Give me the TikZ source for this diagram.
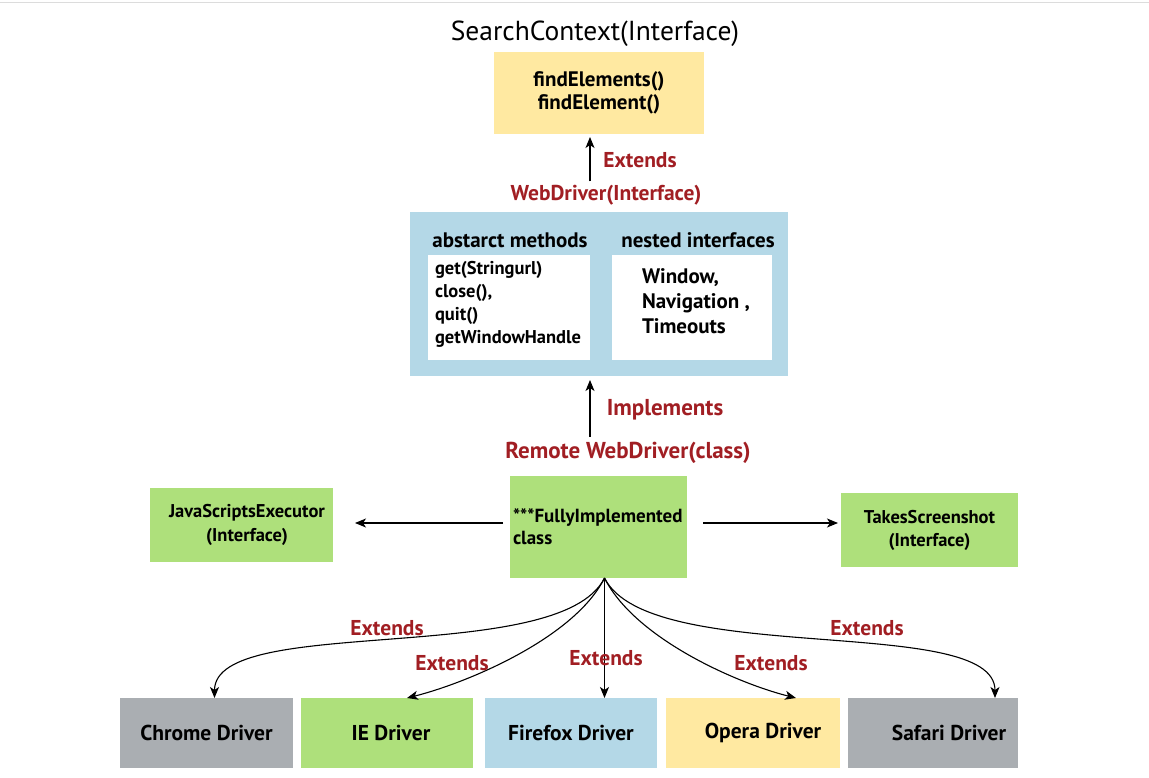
\documentclass[tikz,border=0pt]{standalone}
\usepackage{fontspec}
\setmainfont{PT Sans}
\usetikzlibrary{arrows.meta}
\definecolor{boxyellow}{HTML}{FFE9A1}
\definecolor{boxblue}{HTML}{B4D8E7}
\definecolor{boxgreen}{HTML}{AEE07B}
\definecolor{boxgray}{HTML}{AAAEB2}
\definecolor{labelred}{HTML}{A11E23}
\definecolor{rulegray}{HTML}{DCDCDC}
\begin{document}
\begin{tikzpicture}[x=1pt,y=-1pt,
    box/.style={inner sep=0pt,outer sep=0pt,align=center},
    redlabel/.style={text=labelred,font=\bfseries\fontsize{21.5}{23}\selectfont},
    drvbox/.style={box,minimum height=70pt,font=\bfseries\fontsize{21.5}{23}\selectfont},
    arrow/.style={-{Stealth[length=11pt,width=9pt,inset=3pt]},line width=1.1pt}]
        \useasboundingbox (0,0) rectangle (1149,778);
        \draw[rulegray,line width=1pt] (0,3) -- (1149,3);

        % SearchContext on top
        \node (title) at (595,34) {\fontsize{27.5}{29}\selectfont SearchContext(Interface)};
        \node[box,fill=boxyellow,minimum width=210pt,minimum height=82pt,
              font=\bfseries\fontsize{21}{23}\selectfont] (search) at (599,93)
              {findElements()\\findElement()};

        % WebDriver interface
        \node[redlabel] (webdriver) at (606,195) {WebDriver(Interface)};
        \node[redlabel] (ext1) at (640,160) {Extends};
        \node[box,fill=boxblue,minimum width=378pt,minimum height=164pt] (wdbox) at (599,294) {};
        \node[box,fill=white,minimum width=162pt,minimum height=105pt] (absbox) at (509,307.5) {};
        \node[box,fill=white,minimum width=160pt,minimum height=105pt] (nestbox) at (692,307.5) {};
        \node[font=\bfseries\fontsize{21}{23}\selectfont] (abshead) at (510,240) {abstarct methods};
        \node[font=\bfseries\fontsize{21}{23}\selectfont] (nesthead) at (698,240) {nested interfaces};
        \node[box,anchor=north west,align=left,font=\fontsize{18.5}{23}\selectfont\bfseries] (abslist) at (435,261)
              {get(Stringurl)\\close(),\\quit()\\getWindowHandle};
        \node[box,anchor=north west,align=left,font=\fontsize{21}{25}\selectfont\bfseries] (nestlist) at (642,269)
              {Window,\\Navigation ,\\Timeouts};

        % RemoteWebDriver class
        \node[redlabel,font=\bfseries\fontsize{23}{25}\selectfont] (remote) at (628,453) {Remote WebDriver(class)};
        \node[redlabel,font=\bfseries\fontsize{23}{25}\selectfont] (impl) at (665,410) {Implements};
        \node[box,fill=boxgreen,minimum width=177pt,minimum height=102pt,align=left,
              text width=171pt,font=\bfseries\fontsize{19}{22}\selectfont] (fully) at (598.5,527)
              {***FullyImplemented\\class};
        \node[box,fill=boxgreen,minimum width=183pt,minimum height=74pt,
              font=\bfseries\fontsize{18.5}{24}\selectfont] (jsexec) at (241.5,525)
              {\hspace*{11pt}JavaScriptsExecutor\\\hspace*{11pt}(Interface)};
        \node[box,fill=boxgreen,minimum width=177pt,minimum height=74pt,
              font=\bfseries\fontsize{18.5}{23}\selectfont] (screenshot) at (929.5,530)
              {TakesScreenshot\\(Interface)};

        % Drivers
        \node[drvbox,fill=boxgray,minimum width=173pt] (chrome) at (206.5,733) {Chrome Driver};
        \node[drvbox,fill=boxgreen,minimum width=172pt] (ie) at (387,733) {\hspace*{8pt}IE Driver};
        \node[drvbox,fill=boxblue,minimum width=172pt] (firefox) at (571,733) {Firefox Driver};
        \node[drvbox,fill=boxyellow,minimum width=174pt] (opera) at (753,733) {\hspace*{20pt}Opera Driver};
        \node[drvbox,fill=boxgray,minimum width=170pt] (safari) at (933,733) {\hspace*{32pt}Safari Driver};

        % Draw the arrows
        \draw[arrow,shorten >=3pt] ([xshift=-16pt]webdriver.north) -- ([xshift=-16pt]webdriver.north |- search.south);
        \draw[arrow,shorten <=2pt,shorten >=4pt] ([xshift=-38pt]remote.north) -- ([xshift=-38pt]remote.north |- wdbox.south);
        \draw[arrow,shorten <=7pt,shorten >=22pt] ([yshift=4pt]fully.west) -- ([yshift=4pt]fully.west -| jsexec.east);
        \draw[arrow,shorten <=16pt,shorten >=3pt] ([yshift=4pt]fully.east) -- ([yshift=4pt]fully.east -| screenshot.west);

        % Extends arrows to the drivers
        \coordinate (hub) at ([xshift=6pt]fully.south);
        \draw[arrow] (hub) .. controls +(-45,90) and +(0,-85) .. ([xshift=8pt]chrome.north);
        \draw[arrow] (hub) .. controls +(-30,60) and +(60,-15) .. ([xshift=20pt]ie.north);
        \draw[arrow] (hub) -- (hub |- firefox.north);
        \draw[arrow] (hub) .. controls +(30,60) and +(-60,-15) .. ([xshift=43pt]opera.north);
        \draw[arrow] (hub) .. controls +(45,90) and +(0,-85) .. ([xshift=62pt]safari.north);
        \node[redlabel] (ext2) at (387,628) {Extends};
        \node[redlabel] (ext3) at (452,663) {Extends};
        \node[redlabel] (ext4) at (606,658) {Extends};
        \node[redlabel] (ext5) at (771,663) {Extends};
        \node[redlabel] (ext6) at (867,628) {Extends};
    \end{tikzpicture}
\end{document}
